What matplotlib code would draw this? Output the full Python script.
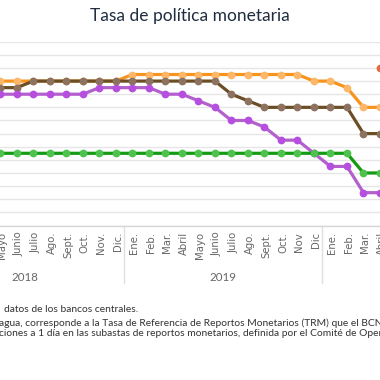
import matplotlib
matplotlib.use("Agg")
import matplotlib.pyplot as plt
import matplotlib.transforms as mtransforms
from matplotlib.lines import Line2D

plt.rcParams['font.family'] = ['Lato', 'DejaVu Sans']

months = ["Mayo", "Junio", "Julio", "Ago.", "Sept.", "Oct.", "Nov.", "Dic.",
          "Ene.", "Feb.", "Mar.", "Abril", "Mayo", "Junio", "Julio", "Ago.",
          "Sept.", "Oct.", "Nov", "Dic", "Ene.", "Feb.", "Mar.", "Abril"]
years = ["2018", "2019", "2020"]
year_centers = [1.5, 13.5, 25.5]
year_breaks = [7.5, 19.5]

honduras = [5.5, 5.5, 5.5, 5.5, 5.5, 5.5, 5.5, 5.5, 5.75, 5.75, 5.75, 5.75,
            5.75, 5.75, 5.75, 5.75, 5.75, 5.75, 5.75, 5.5, 5.5, 5.25, 4.5, 4.5]
dominicana = [5.25, 5.25, 5.5, 5.5, 5.5, 5.5, 5.5, 5.5, 5.5, 5.5, 5.5, 5.5,
              5.5, 5.5, 5.0, 4.75, 4.5, 4.5, 4.5, 4.5, 4.5, 4.5, 3.5, 3.5]
costa_rica = [5.0, 5.0, 5.0, 5.0, 5.0, 5.0, 5.25, 5.25, 5.25, 5.25, 5.0, 5.0,
              4.75, 4.5, 4.0, 4.0, 3.75, 3.25, 3.25, 2.75, 2.25, 2.25, 1.25, 1.25]
guatemala = [2.75] * 22 + [2.0, 2.0]
nicaragua_x = [23, 24]
nicaragua = [6.0, 6.0]

W, H = 380, 380
fig = plt.figure(figsize=(3.8, 3.8), dpi=100)
ax_bottom_px, ax_top_px = 225.5, 41.7
ax = fig.add_axes([0, 1 - ax_bottom_px / H, 1, (ax_bottom_px - ax_top_px) / H])
ax.set_xlim(-0.02, 22.87)
ax.set_ylim(0, 7)

x = list(range(len(months)))
series = [
    (honduras, '#F7941D', '#FDB768'),
    (dominicana, '#6B4E26', '#8D735F'),
    (costa_rica, '#B360CC', '#B64FE0'),
    (guatemala, '#159A15', '#4DC24D'),
]
for vals, lc, mc in series:
    ax.plot(x, vals, color=lc, lw=2.3, marker='o', ms=5.6,
            markerfacecolor=mc, markeredgewidth=0, solid_joinstyle='round')
ax.plot(nicaragua_x, nicaragua, color='#E0603A', lw=2.3, marker='o', ms=5.6,
        markerfacecolor='#E36A45', markeredgewidth=0)

ax.set_yticks([i * 0.5 for i in range(15)])
ax.yaxis.grid(True, color='#e6e6e6', lw=1)
ax.set_axisbelow(True)
ax.tick_params(axis='y', left=False, labelleft=False)
for s in ['top', 'left', 'right']:
    ax.spines[s].set_visible(False)
ax.spines['bottom'].set_color('#d6d6d6')
ax.spines['bottom'].set_linewidth(1)

ax.set_xticks(x)
ax.set_xticklabels(months, rotation=90, fontsize=7.3, color='#666666',
                   family=['DejaVu Sans'])
ax.tick_params(axis='x', length=0, pad=4.5)
offset = mtransforms.ScaledTranslation(2 / 100, 0, fig.dpi_scale_trans)
for lab in ax.get_xticklabels():
    lab.set_transform(lab.get_transform() + offset)

axh = ax_bottom_px - ax_top_px
tr = ax.get_xaxis_transform()
for b in year_breaks:
    ax.add_line(Line2D([b, b], [0, -(283 - ax_bottom_px) / axh], transform=tr,
                       color='#e0e0e0', lw=1, clip_on=False))
for c, yname in zip(year_centers, years):
    ax.text(c, -(277.7 - ax_bottom_px) / axh, yname, transform=tr, ha='center',
            va='center', fontsize=8.3, color='#666666', clip_on=False)

fig.text(0.5, 1 - 16 / H, "Tasa de política monetaria", ha='center', va='center',
         fontsize=12.5, color='#1f2d3f')

fs = 7.4
fig.text(138 / W, 1 - 309 / H, "datos de los bancos centrales.", ha='right',
         va='center', fontsize=fs, color='#333333')
fig.text(-1 / W, 1 - 323.3 / H,
         "agua, corresponde a la Tasa de Referencia de Reportos Monetarios (TRM) que el BCN utiliza",
         ha='left', va='center', fontsize=fs, color='#333333')
fig.text(-1 / W, 1 - 333.6 / H,
         "ciones a 1 día en las subastas de reportos monetarios, definida por el Comité de Operaciones",
         ha='left', va='center', fontsize=fs, color='#333333')

fig.savefig("out.png", dpi=100)
